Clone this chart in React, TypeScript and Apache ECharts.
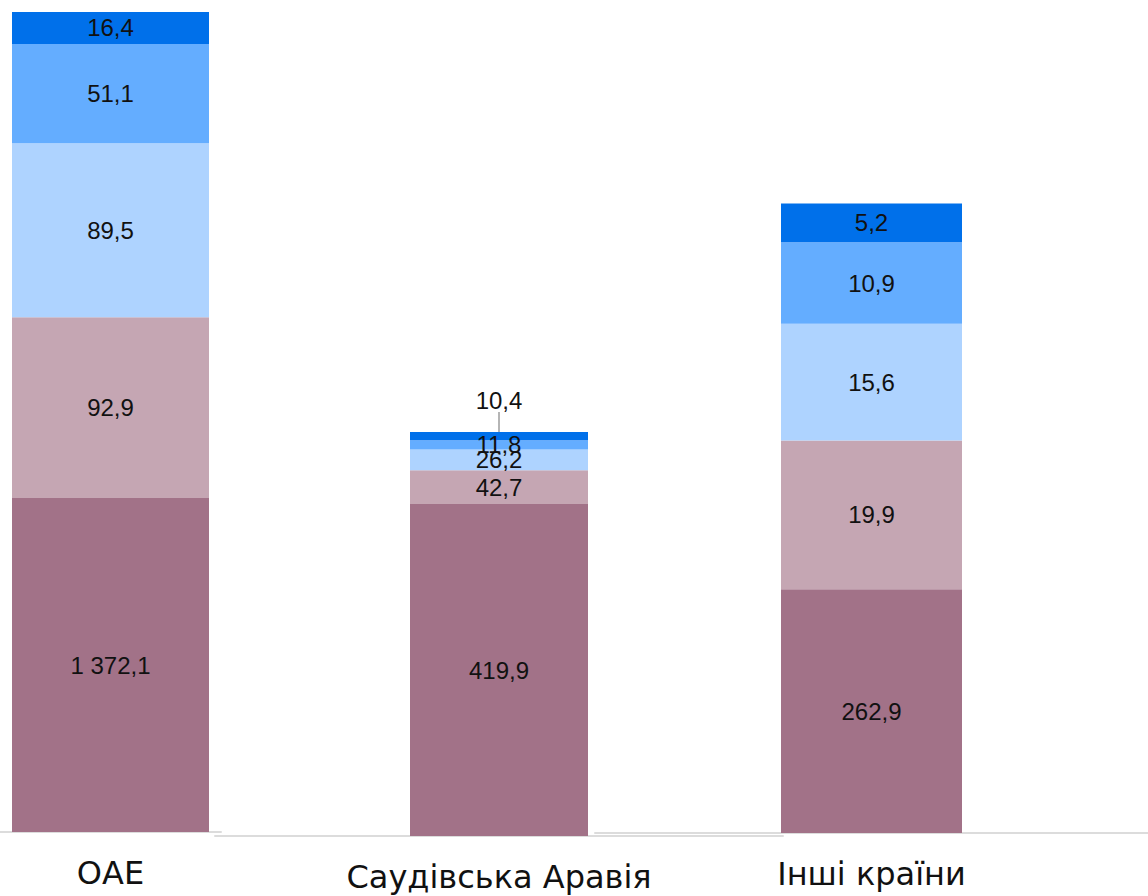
import React, { useEffect, useRef } from 'react';
import * as echarts from 'echarts';

// ---- data ----
const categories = ['ОАЕ', 'Саудівська Аравія', 'Інші країни'];
const layerNames = ['Шар 1', 'Шар 2', 'Шар 3', 'Шар 4', 'Шар 5'];
const layer1 = [1372.1, 419.9, 262.9];
const layer2 = [92.9, 42.7, 19.9];
const layer3 = [89.5, 26.2, 15.6];
const layer4 = [51.1, 11.8, 10.9];
const layer5 = [16.4, 10.4, 5.2];
const layers = [layer1, layer2, layer3, layer4, layer5];

// ---- styles / layout ----
const colors = ['#a27288', '#c5a6b3', '#aed3ff', '#64adff', '#0070ea'];
const panels = [
  { left: 0, width: 221, bottom: 64, barWidth: 197, max: 1622, brk: { start: 160, end: 1372.1, gap: 11.7 } },
  { left: 215, width: 568, bottom: 60, barWidth: 178, max: 1042.2, brk: null as any },
  { left: 595, width: 553, bottom: 63, barWidth: 181, max: 340.1, brk: { start: 20, end: 262.9, gap: 12.6 } },
];

function fmt(v: number): string {
  const [i, d] = v.toFixed(1).split('.');
  return i.replace(/\B(?=(\d{3})+(?!\d))/g, ' ') + ',' + d;
}

export default function App() {
  const ref = useRef<HTMLDivElement>(null);
  useEffect(() => {
    if (!ref.current) return;
    const chart = echarts.init(ref.current, undefined, { renderer: 'svg' });
    const grid = panels.map((p) => ({ left: p.left, width: p.width, top: 12, bottom: p.bottom, containLabel: false }));
    const xAxis = panels.map((p, i) => ({
      gridIndex: i,
      type: 'category',
      data: [categories[i]],
      axisLine: { show: true, lineStyle: { color: '#dcdcdc', width: 2 } },
      axisTick: { show: false },
      axisLabel: { fontSize: 32, fontFamily: 'DejaVu Sans', color: '#111', margin: 25 },
    }));
    const yAxis = panels.map((p, i) => {
      const y: any = {
        gridIndex: i,
        type: 'value',
        min: 0,
        max: p.max,
        show: false,
        splitLine: { show: false },
      };
      if (p.brk) {
        y.breaks = [p.brk];
        y.breakArea = { show: false };
      }
      return y;
    });
    const series: any[] = [];
    panels.forEach((p, pi) => {
      layers.forEach((arr, li) => {
        const s: any = {
          name: layerNames[li],
          type: 'bar',
          xAxisIndex: pi,
          yAxisIndex: pi,
          stack: 'stack' + pi,
          barWidth: p.barWidth,
          data: [arr[pi]],
          itemStyle: { color: colors[li] },
          label: {
            show: true,
            position: 'inside',
            formatter: (prm: any) => fmt(prm.value),
            color: '#111',
            fontSize: 24,
            fontFamily: 'Liberation Sans',
          },
          emphasis: { disabled: true },
          silent: true,
        };
        if (pi === 1 && li === 4) {
          s.labelLayout = { dy: -36 };
          s.labelLine = { show: true, lineStyle: { color: '#b5b5b5', width: 2 } };
        }
        series.push(s);
      });
    });
    chart.setOption({
      animation: false,
      backgroundColor: '#ffffff',
      grid,
      xAxis,
      yAxis,
      series,
    });
    return () => chart.dispose();
  }, []);
  return <div ref={ref} style={{ position: 'absolute', left: 0, top: 0, width: 1148, height: 896 }} />;
}
